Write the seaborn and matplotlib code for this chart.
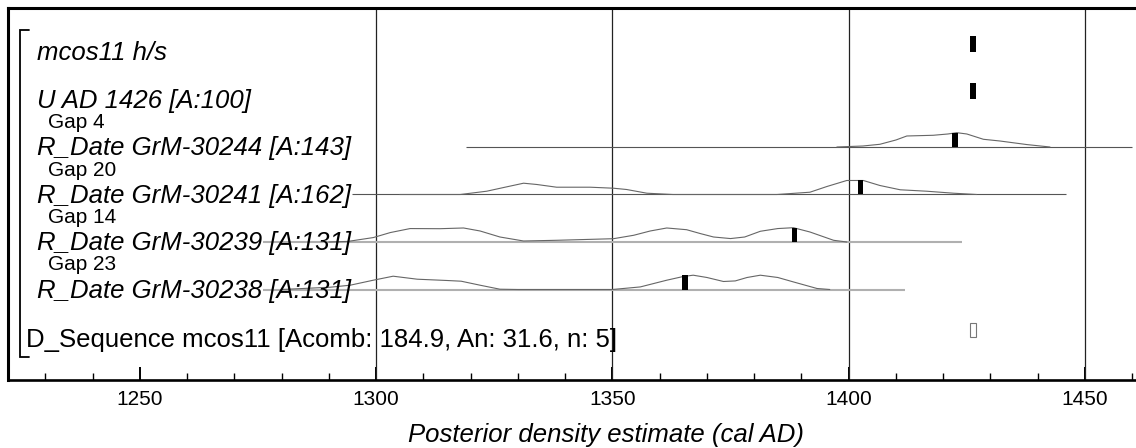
import matplotlib
matplotlib.use("Agg")
import matplotlib.pyplot as plt
import matplotlib.transforms as mtransforms
from matplotlib.ticker import MultipleLocator
import numpy as np
import pandas as pd
import seaborn as sns

# rows, top to bottom
row_labels = ["mcos11 h/s", "U AD 1426 [A:100]", "R_Date GrM-30244 [A:143]",
              "R_Date GrM-30241 [A:162]", "R_Date GrM-30239 [A:131]", "R_Date GrM-30238 [A:131]"]
gap_labels = ["Gap 4", "Gap 20", "Gap 14", "Gap 23"]
summary_label = "D_Sequence mcos11 [Acomb: 184.9, An: 31.6, n: 5]"

# posterior densities (relative height)
years_30244 = [1397.5, 1403, 1406.6, 1410, 1412.3, 1417.9, 1421, 1422.9, 1425, 1428.5, 1432, 1437.7, 1442.6]
dens_30244 = [0, 0.07, 0.19, 0.49, 0.77, 0.82, 0.91, 1.0, 0.91, 0.54, 0.42, 0.17, 0]
years_30241 = [1305, 1317.8, 1323.4, 1327, 1331.2, 1334, 1338.2, 1345.3, 1350.2, 1353, 1357.3, 1362.8,
               1384.8, 1391.8, 1395.4, 1399.6, 1403.1, 1406.6, 1410.9, 1416.5, 1422.2, 1427.1]
dens_30241 = [0, 0, 0.23, 0.49, 0.79, 0.7, 0.51, 0.51, 0.44, 0.35, 0.09, 0,
              0, 0.16, 0.56, 0.98, 0.98, 0.63, 0.33, 0.23, 0.09, 0]
years_30239 = [1290, 1294, 1299.4, 1303, 1307.2, 1313.5, 1318.5, 1322, 1326.2, 1331.2, 1338.2, 1350.2,
               1354.5, 1358, 1361.5, 1365.7, 1368.6, 1371.4, 1375, 1378, 1381.3, 1385, 1388.3, 1391.8,
               1396.8, 1399.6]
dens_30239 = [0, 0.04, 0.31, 0.66, 0.94, 0.93, 0.98, 0.77, 0.35, 0.07, 0.12, 0.23,
              0.47, 0.77, 0.98, 0.86, 0.59, 0.35, 0.24, 0.35, 0.75, 0.94, 1.0, 0.7,
              0.12, 0]
years_30238 = [1280, 1290.3, 1294.5, 1299.4, 1303.6, 1308.7, 1315, 1318, 1322, 1326.2, 1330, 1350,
               1355.9, 1361.5, 1365, 1367.1, 1370, 1373.5, 1376, 1378.5, 1381.3, 1385, 1388.3, 1393.3,
               1396]
dens_30238 = [0, 0.16, 0.3, 0.65, 0.93, 0.72, 0.63, 0.58, 0.3, 0.02, 0, 0,
              0.18, 0.65, 0.91, 1.0, 0.84, 0.56, 0.6, 0.84, 1.0, 0.84, 0.53, 0.07,
              0]
density_years = [years_30244, years_30241, years_30239, years_30238]
density_values = [dens_30244, dens_30241, dens_30239, dens_30238]

# range lines under each R_Date
range_start = [1319, 1295, 1276, 1276]
range_end = [1460, 1446, 1424, 1412]

# medians (filled bars) and their heights
median_years = [1426.3, 1426.3, 1422.5, 1402.5, 1388.5, 1365.4]
median_heights = [1.12, 1.12, 1.0, 0.98, 1.0, 0.98]
summary_year = 1426.3
summary_height = 0.98

grid_years = [1300, 1350, 1400, 1450]

sns.set_theme(style="white")
plt.rcParams["font.family"] = ["Liberation Sans", "DejaVu Sans"]
plt.rcParams["text.color"] = "black"
plt.rcParams["axes.labelcolor"] = "black"
plt.rcParams["xtick.color"] = "black"

W, H = 1136, 448
fig = plt.figure(figsize=(W / 100, H / 100), dpi=100)
ax = fig.add_axes([8 / W, (H - 380) / H, 1 - 8 / W, 372 / H])

row_px = 47.5
scale = 14.3 / row_px
ax.set_xlim(1222.1, 1460.8)
ax.set_ylim((380 - 52) / row_px, (8 - 52) / row_px)

for yr in grid_years:
    ax.axvline(yr, color="#222222", lw=0.9, zorder=1)

# range lines
for i in range(4):
    row = i + 2
    light = i >= 2
    ax.hlines(row, range_start[i], range_end[i],
              color="#b0b0b0" if light else "#555555",
              lw=1.5 if light else 0.8, zorder=2)

# density outlines
frames = []
for i in range(4):
    row = i + 2
    frames.append(pd.DataFrame({"year": density_years[i],
                                "y": row - np.array(density_values[i]) * scale,
                                "sample": i}))
curves = pd.concat(frames, ignore_index=True)
sns.lineplot(data=curves, x="year", y="y", units="sample", estimator=None, sort=False,
             color="#666666", lw=0.8, legend=False, ax=ax, zorder=3)

rows = np.arange(len(row_labels))
ax.bar(median_years, -np.array(median_heights) * scale, bottom=rows, width=1.2,
       color="black", lw=0, zorder=4)
ax.bar([summary_year], [-summary_height * scale], bottom=[len(row_labels)], width=1.1,
       fill=False, edgecolor="#777777", lw=0.8, zorder=4)

trans = mtransforms.blended_transform_factory(ax.transAxes, ax.transData)
for i, lab in enumerate(row_labels):
    ax.text(0.0257, i + 0.17, lab, transform=trans, fontsize=18.5, style="italic",
            va="baseline", ha="left", zorder=5)
for i, lab in enumerate(gap_labels):
    ax.text(0.0355, i + 1.5 + 0.1, lab, transform=trans, fontsize=15,
            va="baseline", ha="left", zorder=5)
ax.text(0.0162, len(row_labels) + 0.2, summary_label, transform=trans, fontsize=18.5,
        va="baseline", ha="left", zorder=5)

# bracket round the sequence
bx0, bx1 = 0.0106, 0.0185
ytop, ybot = (30 - 52) / row_px, (357 - 52) / row_px
ax.plot([bx1, bx0, bx0, bx1], [ytop, ytop, ybot, ybot], transform=trans,
        color="black", lw=1.3, solid_joinstyle="miter", zorder=5)

ax.xaxis.set_major_locator(MultipleLocator(50))
ax.xaxis.set_minor_locator(MultipleLocator(10))
ax.set_yticks([])
ax.set_ylabel("")
ax.tick_params(axis="x", which="major", direction="in", length=9.5, width=1.4,
               color="black", labelsize=15, pad=7, bottom=True)
ax.tick_params(axis="x", which="minor", direction="in", length=5, width=1.0,
               color="black", bottom=True)
ax.set_xlabel("Posterior density estimate (cal AD)", fontsize=18.5, style="italic",
              labelpad=10, x=0.5297)

for side in ["left", "top", "bottom"]:
    ax.spines[side].set_color("black")
    ax.spines[side].set_linewidth(2.2)
ax.spines["bottom"].set_linewidth(1.9)
ax.spines["right"].set_visible(False)

fig.savefig("out.png", dpi=100)
